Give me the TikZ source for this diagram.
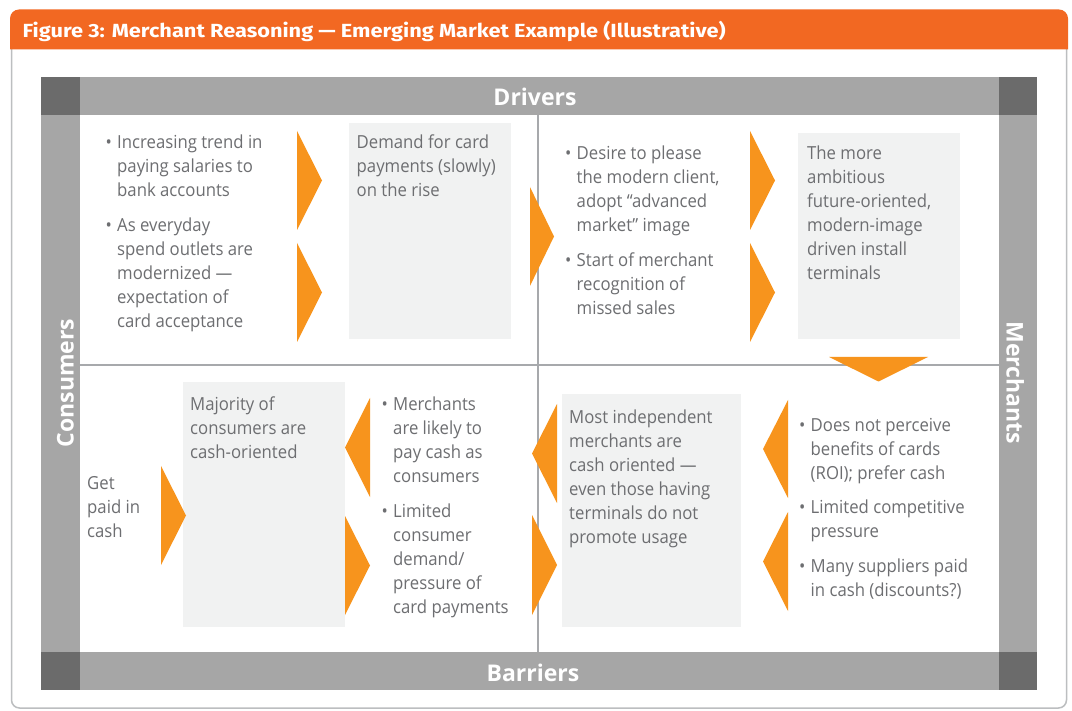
\documentclass[tikz,border=0pt]{standalone}
\usepackage{fontspec}
\usepackage{graphicx}
\setmainfont{Open Sans}[FakeStretch=0.93]
\newfontfamily\lblfont{Open Sans}
\newfontfamily\ttlfont{Fira Sans}
\definecolor{hdr}{HTML}{F26822}
\definecolor{chev}{HTML}{F7941D}
\definecolor{band}{HTML}{A6A6A6}
\definecolor{bandd}{HTML}{6B6B6B}
\definecolor{boxc}{HTML}{F1F2F2}
\definecolor{tgray}{HTML}{6D6E71}
\definecolor{framec}{HTML}{BCBEC0}
\definecolor{divc}{HTML}{A7A9AC}
\tikzset{
  txt/.style={anchor=north west, inner sep=0pt, align=left, text=tgray, font=\fontsize{18}{24}\selectfont},
  bul/.style={anchor=north east, inner sep=0pt, text=tgray, font=\fontsize{18}{24}\selectfont},
  bandlbl/.style={inner sep=0pt, text=white, font=\lblfont\bfseries\fontsize{23}{26}\selectfont},
  greybox/.style={fill=boxc},
  chevron/.style={fill=chev},
  divline/.style={draw=divc, line width=2pt},
}
\begin{document}
\begin{tikzpicture}[x=1pt,y=-1pt]
\useasboundingbox (0,0) rectangle (1072,711);
\fill[white] (0,0) rectangle (1072,711);
% frame
\draw[framec, line width=1.5pt, rounded corners=8pt] (11.5,45) -- (11.5,708) -- (1066.5,708) -- (1066.5,45);
% header
\fill[hdr] (10,49.5) [rounded corners=9pt] -- (10,9.5) -- (1068,9.5) [sharp corners] -- (1068,49.5) -- cycle;
\node[anchor=base west, inner sep=0pt, text=white, font=\ttlfont\bfseries\fontsize{19}{22}\selectfont] (title) at (22.5,37.5)
  {\resizebox{703pt}{\height}{Figure 3: Merchant Reasoning — Emerging Market Example (Illustrative)}};
% bands
\fill[band] (41,77) rectangle (1037,115);
\fill[band] (41,652) rectangle (1037,690);
\fill[band] (41,115) rectangle (80,652);
\fill[band] (999,115) rectangle (1037,652);
\fill[bandd] (41,77) rectangle (80,115);
\fill[bandd] (999,77) rectangle (1037,115);
\fill[bandd] (41,652) rectangle (80,690);
\fill[bandd] (999,652) rectangle (1037,690);
% dividers
\draw[divline] (538,115) -- (538,652);
\draw[divline] (80,365) -- (999,365);
% band labels
\node[bandlbl, anchor=base] (drivers) at (535,106) {Drivers};
\node[bandlbl, anchor=base] (barriers) at (533,681) {Barriers};
\node[bandlbl, anchor=base, rotate=90] (consumers) at (73.5,383) {Consumers};
\node[bandlbl, anchor=base, rotate=-90] (merchants) at (1006.5,383) {Merchants};
% grey boxes
\fill[greybox] (349,123) rectangle (511,339);
\fill[greybox] (798,133) rectangle (960,339);
\fill[greybox] (183,382) rectangle (345,627);
\fill[greybox] (562,394) rectangle (741,627);
% chevrons
\fill[chevron] (297,131) -- (322,180.5) -- (297,230) -- cycle;
\fill[chevron] (297,243) -- (322,292.5) -- (297,342) -- cycle;
\fill[chevron] (530,187) -- (554,236.5) -- (530,286) -- cycle;
\fill[chevron] (750,131) -- (775,180.5) -- (750,230) -- cycle;
\fill[chevron] (750,243) -- (775,292.5) -- (750,342) -- cycle;
\fill[chevron] (829,357) -- (928,357) -- (878.5,381.5) -- cycle;
\fill[chevron] (161,466) -- (186,515.5) -- (161,565) -- cycle;
\fill[chevron] (370,398) -- (345,447.5) -- (370,497) -- cycle;
\fill[chevron] (345,516) -- (370,565.5) -- (345,615) -- cycle;
\fill[chevron] (557,404) -- (532,453.5) -- (557,503) -- cycle;
\fill[chevron] (532,515) -- (557,565) -- (532,615) -- cycle;
\fill[chevron] (788,400) -- (763,449) -- (788,498) -- cycle;
\fill[chevron] (788,512) -- (763,561.5) -- (788,611) -- cycle;
% top-left
\node[bul] (tlb1) at (112,131.2) {\strut•};
\node[txt] (tl1) at (117,131.2) {\strut Increasing trend in\\paying salaries to\\bank accounts};
\node[bul] (tlb2) at (112,214.2) {\strut•};
\node[txt] (tl2) at (117,214.2) {\strut As everyday\\spend outlets are\\modernized —\\expectation of\\card acceptance};
\node[txt] (tlbox) at (356.5,131.2) {\strut Demand for card\\payments (slowly)\\on the rise};
% top-right
\node[bul] (trb1) at (571.5,142.7) {\strut•};
\node[txt] (tr1) at (576.5,142.7) {\strut Desire to please\\the modern client,\\adopt “advanced\\market” image};
\node[bul] (trb2) at (571.5,249.2) {\strut•};
\node[txt] (tr2) at (576.5,249.2) {\strut Start of merchant\\recognition of\\missed sales};
\node[txt] (trbox) at (807,142.7) {\strut The more\\ambitious\\future-oriented,\\modern-image\\driven install\\terminals};
% bottom-left
\node[txt] (get) at (87,472.7) {\strut Get\\paid in\\cash};
\node[txt] (blbox) at (190,393.2) {\strut Majority of\\consumers are\\cash-oriented};
\node[bul] (blb1) at (388,393.7) {\strut•};
\node[txt] (bl1) at (393,393.7) {\strut Merchants\\are likely to\\pay cash as\\consumers};
\node[bul] (blb2) at (388,500.2) {\strut•};
\node[txt] (bl2) at (393,500.2) {\strut Limited\\consumer\\demand/\\pressure of\\card payments};
% bottom-middle
\node[txt] (bmbox) at (569,406.7) {\strut Most independent\\merchants are\\cash oriented —\\even those having\\terminals do not\\promote usage};
% bottom-right
\node[bul] (brb1) at (805.5,414.2) {\strut•};
\node[txt] (br1) at (810.5,414.2) {\strut Does not perceive\\benefits of cards\\(ROI); prefer cash};
\node[bul] (brb2) at (805.5,496.7) {\strut•};
\node[txt] (br2) at (810.5,496.7) {\strut Limited competitive\\pressure};
\node[bul] (brb3) at (805.5,555.7) {\strut•};
\node[txt] (br3) at (810.5,555.7) {\strut Many suppliers paid\\in cash (discounts?)};
\end{tikzpicture}
\end{document}
